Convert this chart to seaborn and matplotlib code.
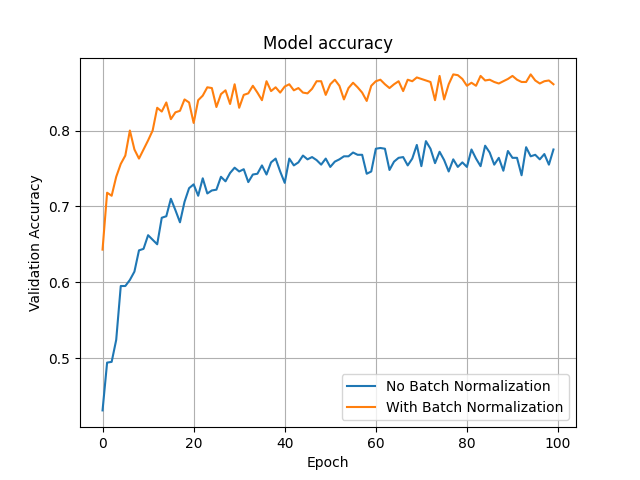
import numpy as np
import pandas as pd
import matplotlib
matplotlib.use("Agg")
import matplotlib.pyplot as plt
import seaborn as sns

epochs = list(range(100))

acc_no_bn = [
    0.431, 0.494, 0.495, 0.524, 0.595, 0.595, 0.603, 0.614, 0.642, 0.644,
    0.662, 0.656, 0.650, 0.685, 0.687, 0.710, 0.695, 0.679, 0.706, 0.724,
    0.729, 0.714, 0.737, 0.717, 0.721, 0.722, 0.739, 0.733, 0.744, 0.751,
    0.746, 0.749, 0.732, 0.742, 0.743, 0.754, 0.742, 0.758, 0.763, 0.746,
    0.731, 0.763, 0.754, 0.758, 0.767, 0.762, 0.765, 0.761, 0.755, 0.763,
    0.752, 0.759, 0.762, 0.766, 0.766, 0.771, 0.768, 0.768, 0.743, 0.746,
    0.776, 0.777, 0.776, 0.748, 0.759, 0.764, 0.765, 0.754, 0.763, 0.781,
    0.753, 0.786, 0.776, 0.757, 0.772, 0.761, 0.746, 0.762, 0.752, 0.758,
    0.752, 0.775, 0.763, 0.753, 0.780, 0.771, 0.755, 0.764, 0.747, 0.773,
    0.764, 0.764, 0.741, 0.778, 0.766, 0.768, 0.762, 0.769, 0.755, 0.775,
]

acc_bn = [
    0.643, 0.718, 0.714, 0.739, 0.756, 0.767, 0.800, 0.775, 0.763, 0.775,
    0.787, 0.800, 0.830, 0.825, 0.837, 0.815, 0.824, 0.826, 0.841, 0.837,
    0.810, 0.840, 0.846, 0.857, 0.856, 0.831, 0.848, 0.853, 0.835, 0.861,
    0.830, 0.847, 0.849, 0.859, 0.850, 0.840, 0.865, 0.852, 0.857, 0.850,
    0.858, 0.861, 0.853, 0.856, 0.850, 0.849, 0.855, 0.865, 0.865, 0.847,
    0.861, 0.867, 0.859, 0.841, 0.856, 0.863, 0.857, 0.850, 0.839, 0.859,
    0.865, 0.867, 0.861, 0.856, 0.861, 0.865, 0.852, 0.867, 0.865, 0.870,
    0.868, 0.866, 0.864, 0.840, 0.872, 0.841, 0.861, 0.874, 0.873, 0.868,
    0.859, 0.863, 0.859, 0.872, 0.866, 0.867, 0.864, 0.862, 0.865, 0.868,
    0.872, 0.867, 0.864, 0.864, 0.874, 0.866, 0.862, 0.865, 0.866, 0.861,
]

labels = ["No Batch Normalization", "With Batch Normalization"]

df = pd.DataFrame({
    "Epoch": epochs * 2,
    "Validation Accuracy": acc_no_bn + acc_bn,
    "Model": [labels[0]] * len(epochs) + [labels[1]] * len(epochs),
})

fig, ax = plt.subplots(figsize=(6.4, 4.8), dpi=100)
sns.lineplot(data=df, x="Epoch", y="Validation Accuracy", hue="Model",
             palette=["#1f77b4", "#ff7f0e"], linewidth=1.5, ax=ax)
ax.set_title("Model accuracy")
ax.grid(True)
ax.legend(loc="lower right")
fig.savefig("out.png", dpi=100)
